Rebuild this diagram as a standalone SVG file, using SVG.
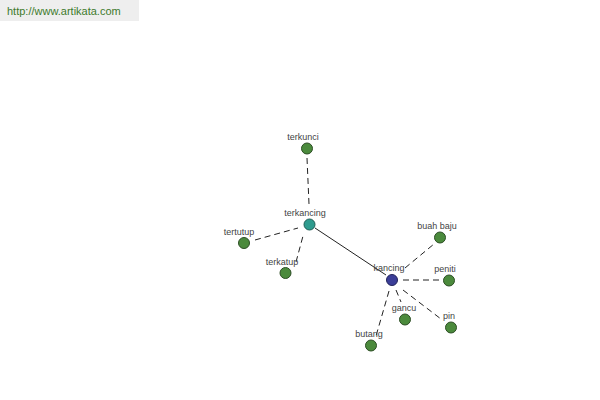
<svg xmlns="http://www.w3.org/2000/svg" width="600" height="400" viewBox="0 0 600 400">
<style>
.lbl{font-family:"Liberation Sans",Arial,sans-serif;font-size:9px;fill:#444;text-anchor:middle}
.leaf{fill:#4b8a3c;stroke:#2e4f26;stroke-width:1}
.dash{stroke:#222;stroke-width:1;stroke-dasharray:6,4;fill:none}
</style>
<rect x="0" y="0" width="600" height="400" fill="#ffffff"/>
<rect x="0" y="0" width="139" height="21" fill="#eeeeee"/>
<text x="7" y="15" font-family="'Liberation Sans',Arial,sans-serif" font-size="11" fill="#3d7a2c">http://www.artikata.com</text>
<g id="connectors">
<line class="dash" x1="307" y1="158" x2="309" y2="204"/>
<line class="dash" x1="255" y1="240" x2="298" y2="228"/>
<line class="dash" x1="296" y1="262" x2="303" y2="236"/>
<line x1="315" y1="228" x2="386" y2="275" stroke="#222" stroke-width="1"/>
<line class="dash" x1="405" y1="268" x2="434" y2="244"/>
<line class="dash" x1="403" y1="280" x2="442" y2="280"/>
<line class="dash" x1="403" y1="290" x2="441" y2="319"/>
<line class="dash" x1="396" y1="290" x2="401" y2="302"/>
<line class="dash" x1="389" y1="291" x2="376" y2="336"/>
</g>
<g id="terkunci"><circle class="leaf" cx="307" cy="148.5" r="5.5"/><text class="lbl" x="303" y="140">terkunci</text></g>
<g id="terkancing"><circle cx="309.5" cy="224.5" r="5.5" fill="#2e9b8e" stroke="#1f5d56"/><text class="lbl" x="305" y="216">terkancing</text></g>
<g id="tertutup"><circle class="leaf" cx="244" cy="243" r="5.5"/><text class="lbl" x="239" y="235">tertutup</text></g>
<g id="terkatup"><circle class="leaf" cx="285.5" cy="273" r="5.5"/><text class="lbl" x="282" y="265">terkatup</text></g>
<g id="kancing"><circle cx="392" cy="280" r="5.5" fill="#3b3e98" stroke="#23255c"/><text class="lbl" x="389" y="271">kancing</text></g>
<g id="buah-baju"><circle class="leaf" cx="440" cy="237.5" r="5.5"/><text class="lbl" x="437" y="229">buah baju</text></g>
<g id="peniti"><circle class="leaf" cx="449" cy="280.5" r="5.5"/><text class="lbl" x="445" y="272">peniti</text></g>
<g id="pin"><circle class="leaf" cx="451" cy="327.5" r="5.5"/><text class="lbl" x="449" y="319">pin</text></g>
<g id="gancu"><circle class="leaf" cx="405" cy="319.5" r="5.5"/><text class="lbl" x="404" y="311">gancu</text></g>
<g id="butang"><circle class="leaf" cx="371" cy="345.5" r="5.5"/><text class="lbl" x="369" y="337">butang</text></g>
</svg>
